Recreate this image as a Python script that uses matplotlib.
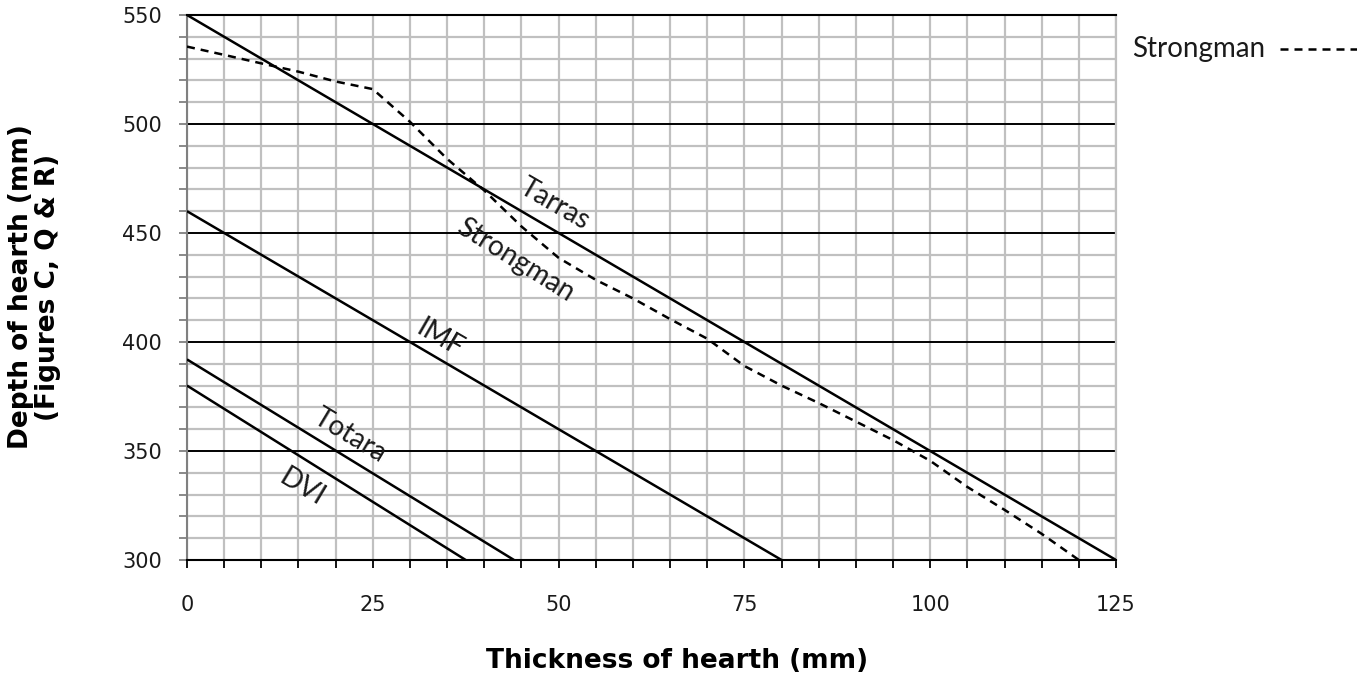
import matplotlib.pyplot as plt
from matplotlib.lines import Line2D
from matplotlib.ticker import MultipleLocator

# straight-line charts (thickness mm, depth mm)
tarras_x = [0, 125]
tarras_y = [550, 300]
imf_x = [0, 80]
imf_y = [460, 300]
totara_x = [0, 44]
totara_y = [392, 300]
dvi_x = [0, 37.5]
dvi_y = [380, 300]

# Strongman dashed curve
strong_x = [0, 5, 10, 15, 20, 25, 30, 35, 40, 45, 50, 55, 60, 65, 70,
            75, 80, 85, 90, 95, 100, 105, 110, 115, 120]
strong_y = [535.5, 531.7, 527.8, 524, 519.5, 516, 501, 484, 469.5, 453,
            438.6, 428.5, 420, 410.5, 401.5, 389, 380, 372, 363.5, 355,
            345.5, 333.5, 323, 312, 300]

# (text, x, y, angle)
labels = [('Tarras', 49.5, 463, -30),
          ('Strongman', 44.2, 437.5, -32),
          ('IMF', 34, 401.5, -30),
          ('Totara', 21.9, 357, -31),
          ('DVI', 15.5, 333.5, -31)]

label_font = ['Lato', 'DejaVu Sans']
grey = '#c0c0c0'

fig = plt.figure(figsize=(13.57, 6.75), dpi=100)
ax = fig.add_axes([0.1378, 0.1704, 0.6846, 0.8074])

ax.set_xlim(0, 125)
ax.set_ylim(300, 550)

# grid
ax.xaxis.set_major_locator(MultipleLocator(25))
ax.xaxis.set_minor_locator(MultipleLocator(5))
ax.yaxis.set_major_locator(MultipleLocator(50))
ax.yaxis.set_minor_locator(MultipleLocator(10))
ax.grid(True, axis='x', which='both', color=grey, lw=1.6, zorder=0)
ax.grid(True, axis='y', which='minor', color=grey, lw=1.6, zorder=0)
ax.grid(True, axis='y', which='major', color='black', lw=1.4, zorder=1)
ax.set_axisbelow(True)

ax.spines['top'].set_color('black')
ax.spines['top'].set_linewidth(1.5)
ax.spines['right'].set_color(grey)
ax.spines['right'].set_linewidth(1.6)
ax.spines['left'].set_color('#808080')
ax.spines['left'].set_linewidth(1.5)
ax.spines['bottom'].set_color('black')
ax.spines['bottom'].set_linewidth(1.5)

ax.tick_params(axis='x', which='both', length=6, width=1.3, color='black',
               direction='out', pad=19)
ax.tick_params(axis='y', which='both', length=6, width=1.3, color='#808080',
               direction='out', pad=12)
ax.tick_params(axis='both', which='major', labelsize=15)
for t in ax.get_xticklabels() + ax.get_yticklabels():
    t.set_color('#1a1a1a')

# lines
for xs, ys in [(tarras_x, tarras_y), (imf_x, imf_y),
               (totara_x, totara_y), (dvi_x, dvi_y)]:
    ax.plot(xs, ys, color='black', lw=1.8, zorder=3, solid_capstyle='butt')
ax.plot(strong_x, strong_y, color='black', lw=1.8, zorder=3,
        dashes=(3.2, 2.4))

for text, x, y, ang in labels:
    ax.text(x, y, text, rotation=ang, rotation_mode='anchor',
            ha='center', va='center', fontsize=20, family=label_font,
            color='#1a1a1a', zorder=4)

# axis titles
fig.text(677 / 1357, 1 - 661 / 675, 'Thickness of hearth (mm)', fontsize=19,
         fontweight='bold', ha='center', va='center')
fig.text(35 / 1357, 1 - 287 / 675, 'Depth of hearth (mm)\n(Figures C, Q & R)',
         fontsize=19, fontweight='bold', ha='center', va='center',
         rotation=90, linespacing=1.05, multialignment='center')

# legend entry at the top right
fig.text(0.8345, 0.927, 'Strongman', fontsize=20, family=label_font,
         color='#1a1a1a', va='center', ha='left')
fig.add_artist(Line2D([0.943, 1.0], [0.928, 0.928], color='black', lw=1.8,
                      dashes=(3.2, 2.4), transform=fig.transFigure))

fig.savefig('out.png', dpi=100)
